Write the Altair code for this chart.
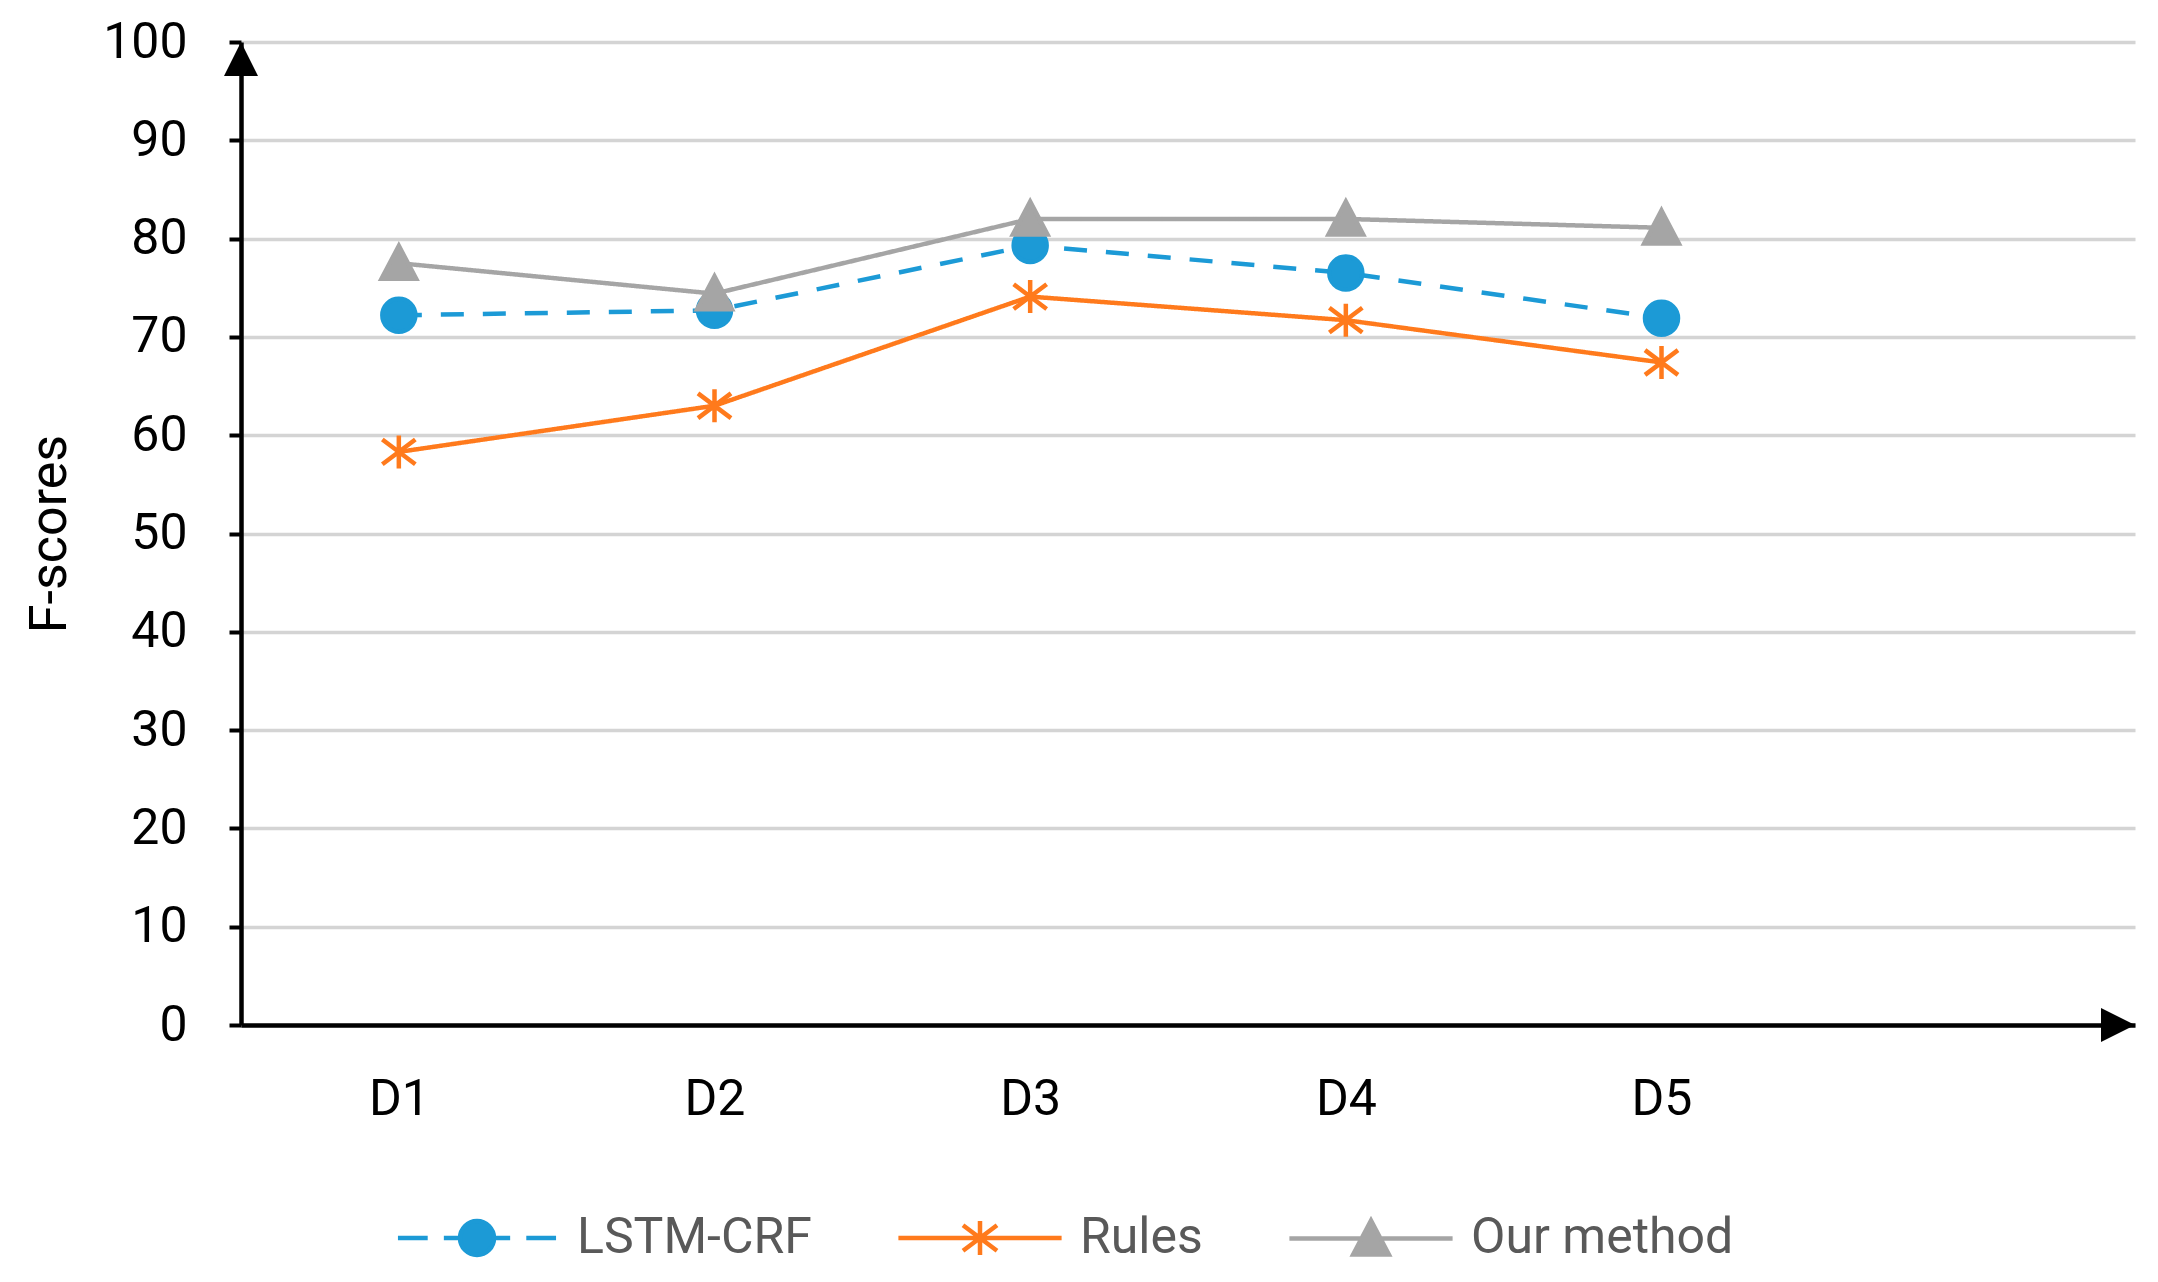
import json
import altair as alt
import pandas as pd

# ---- data ----
categories = ["D1", "D2", "D3", "D4", "D5"]
series_names = ["LSTM-CRF", "Rules", "Our method"]
lstm_crf = [72.2, 72.7, 79.3, 76.5, 71.9]
rules = [58.3, 63.0, 74.1, 71.7, 67.4]
our_method = [77.5, 74.4, 82.0, 82.0, 81.1]
y_ticks = [0, 10, 20, 30, 40, 50, 60, 70, 80, 90, 100]
x_domain = [0.5, 6.5]   # 6 category slots, the last one empty
y_domain = [0, 100]
colors = ["#1C9AD6", "#FF7A1C", "#A5A5A5"]

FONT = "Roboto"

rows = []
for name, vals in zip(series_names, [lstm_crf, rules, our_method]):
    for i, (c, v) in enumerate(zip(categories, vals)):
        rows.append({"series": name, "idx": i + 1, "cat": c, "value": v})
df = pd.DataFrame(rows)

# marker shapes (unit coordinates)
circle_p = "M1,0A1,1,0,1,1,-1,0A1,1,0,1,1,1,0Z"
star_p = "M0,-1L0,1M-1,-0.75L1,0.75M-1,0.75L1,-0.75"
tri_p = "M0,-1.05L1.05,0.95L-1.05,0.95Z"

# legend symbols: line + marker
leg_lstm = "M-4.65,0L-2.9,0M-1.95,0L-1,0M1,0L1.95,0M2.9,0L4.65,0" + circle_p
leg_rules = "M-4.8,0L4.8,0" + star_p
leg_ours = "M-4.8,0L4.8,0" + tri_p

color_scale = alt.Scale(domain=series_names, range=colors)

label_expr = json.dumps(categories) + "[datum.value - 1]"

x_enc = alt.X(
    "idx:Q",
    scale=alt.Scale(domain=x_domain, nice=False, zero=False),
    axis=alt.Axis(
        values=[1, 2, 3, 4, 5], labelExpr=label_expr, title=None, grid=False,
        ticks=False, domainColor="#000000", domainWidth=4.5,
        labelFont=FONT, labelFontSize=50, labelColor="#000000", labelPadding=49,
    ),
)
y_enc = alt.Y(
    "value:Q",
    scale=alt.Scale(domain=y_domain, nice=False),
    axis=alt.Axis(
        values=y_ticks, title="F-scores", grid=True, gridColor="#D4D4D4", gridWidth=3.5,
        tickSize=12, tickWidth=4, tickColor="#000000",
        domainColor="#000000", domainWidth=4.5,
        labelFont=FONT, labelFontSize=50, labelColor="#000000", labelPadding=42,
        titleFont=FONT, titleFontSize=52, titleFontWeight="normal", titleColor="#000000",
        titlePadding=26,
    ),
)

lines = alt.Chart(df).mark_line(strokeWidth=4.5).encode(
    x=x_enc,
    y=y_enc,
    color=alt.Color("series:N", scale=color_scale, legend=None),
    strokeDash=alt.StrokeDash(
        "series:N",
        scale=alt.Scale(domain=series_names, range=[[23, 19], [1, 0], [1, 0]]),
        legend=None,
    ),
)

points = alt.Chart(df).mark_point(filled=True, strokeWidth=4.5, opacity=1, size=1089).encode(
    x=x_enc,
    y=y_enc,
    color=alt.Color("series:N", scale=color_scale, legend=None),
    stroke=alt.Stroke("series:N", scale=color_scale, legend=None),
    shape=alt.Shape(
        "series:N",
        scale=alt.Scale(domain=series_names, range=[circle_p, star_p, tri_p]),
        legend=None,
    ),
)

leg = alt.Legend(
    title=None, orient="none", legendX=211, legendY=1171, direction="horizontal",
    labelFont=FONT, labelFontSize=50, labelColor="#595959", labelLimit=0,
    symbolSize=1156, symbolStrokeWidth=4.5, labelOffset=75, columnPadding=77,
    padding=0, symbolOffset=0, symbolOpacity=1,
)

legend_layer = alt.Chart(df).transform_filter("false").mark_point(
    filled=True, strokeWidth=4.5, opacity=1, size=1156
).encode(
    x=x_enc,
    y=y_enc,
    color=alt.Color("series:N", scale=color_scale, legend=leg),
    stroke=alt.Stroke("series:N", scale=color_scale, legend=leg),
    shape=alt.Shape(
        "series:N",
        scale=alt.Scale(domain=series_names, range=[leg_lstm, leg_rules, leg_ours]),
        legend=leg,
    ),
)

arrow_x_df = pd.DataFrame({"idx": [x_domain[1]], "value": [y_domain[0]]})
arrow_y_df = pd.DataFrame({"idx": [x_domain[0]], "value": [y_domain[1]]})

arrow_x = alt.Chart(arrow_x_df).mark_point(
    shape="M0,0L-2,-1L-2,1Z", filled=True, color="#000000", size=1156, opacity=1
).encode(x=x_enc, y=y_enc)
arrow_y = alt.Chart(arrow_y_df).mark_point(
    shape="M0,0L-1,2L1,2Z", filled=True, color="#000000", size=1156, opacity=1
).encode(x=x_enc, y=y_enc)

chart = alt.layer(lines, points, legend_layer, arrow_x, arrow_y).resolve_scale(
    color="independent", stroke="independent", shape="independent"
).properties(
    width=1894,
    height=983,
    autosize=alt.AutoSizeParams(type="none"),
    padding={"left": 233, "top": 34, "right": 5, "bottom": 249},
    background="white",
).configure_view(stroke=None)

chart.save("out.html", embed_options={"renderer": "svg", "actions": False})
